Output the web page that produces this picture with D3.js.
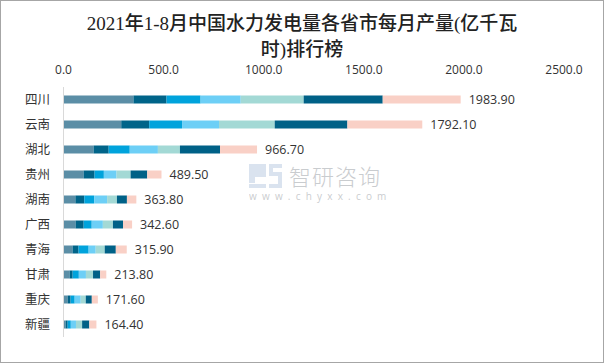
<!DOCTYPE html>
<html>
<head>
<meta charset="utf-8">
<script src="https://cdnjs.cloudflare.com/ajax/libs/d3/7.8.5/d3.min.js"></script>
<style>
  body { margin: 0; background: #fff; }
  svg text { font-family: "Open Sans", "Noto Sans CJK SC", sans-serif; }
</style>
</head>
<body>
<div id="chart"></div>
<script>

var provinces = ["四川", "云南", "湖北", "贵州", "湖南", "广西", "青海", "甘肃", "重庆", "新疆"];
var totals = [1983.9, 1792.1, 966.7, 489.5, 363.8, 342.6, 315.9, 213.8, 171.6, 164.4];
var xTicks = [0, 500, 1000, 1500, 2000, 2500];

// monthly output, one array per period (1-2月 combined)
var m12 = [349.5, 288.4, 150.3, 100.2, 59.4, 60.3, 45.2, 30.6, 20.4, 10.5];
var m3 = [165.2, 139.6, 75.4, 55.1, 44.6, 40.5, 30.1, 15.2, 15.1, 10.4];
var m4 = [170.1, 164.2, 105.2, 46.3, 49.3, 40.2, 50.3, 30.8, 20.3, 15.6];
var m5 = [200.3, 184.5, 140.6, 63.4, 64.5, 55.6, 35.2, 35.5, 30.2, 25.8];
var m6 = [314.6, 278.3, 110.1, 70.2, 49.2, 50.4, 45.1, 35.4, 25.3, 30.7];
var m7 = [394.8, 363.1, 200.3, 83.1, 49.8, 50.3, 55.4, 35.6, 30.1, 35.9];
var m8 = [389.4, 374.0, 184.8, 71.2, 47.0, 45.3, 54.6, 30.7, 30.2, 35.5];

var months = [m12, m3, m4, m5, m6, m7, m8];
var colors = ["#5b8ea6", "#006489", "#00a3dc", "#6dcff6", "#a3d9d5", "#006187", "#f9d0c6"];

var svgWidth = 605;
var svgHeight = 363;

var svg = d3.select("#chart")
  .append("svg")
  .attr("width", svgWidth)
  .attr("height", svgHeight);

// outer frame
svg.append("rect")
  .attr("x", 0.5).attr("y", 0.5)
  .attr("width", svgWidth - 2).attr("height", svgHeight - 1)
  .attr("fill", "#fff")
  .attr("stroke", "#a6a6a6");

// title
var title = svg.append("text")
  .attr("text-anchor", "middle")
  .attr("fill", "#222")
  .style("font-family", "'Liberation Serif', 'Noto Sans CJK SC', serif")
  .style("font-size", "19px")
  .style("font-weight", "500");
title.append("tspan").attr("x", 302).attr("y", 30).text("2021年1-8月中国水力发电量各省市每月产量(亿千瓦");
title.append("tspan").attr("x", 302).attr("y", 56).text("时)排行榜");

var x = d3.scaleLinear()
  .domain([0, 2500])
  .range([63.5, 564]);

var y = d3.scaleBand()
  .domain(provinces)
  .range([87, 337])
  .paddingInner(0.68)
  .paddingOuter(0.34);

// stacked rows
var rows = provinces.map(function(p, i) {
  var start = 0;
  return months.map(function(m, k) {
    var seg = {name: p, k: k, x0: start, x1: start + m[i]};
    start += m[i];
    return seg;
  });
});

var chartGroup = svg.append("g");

// watermark
var wm = svg.append("g").attr("opacity", 0.45);
wm.append("path")
  .attr("d", "M249,164 h17 v13 h-11 v6 h-6 z M256,170 h4 v2 h-4 z")
  .attr("fill", "#aec3dc");
wm.append("path")
  .attr("d", "M269,164 h13 v4 h-9 v4 h9 v16 h-13 v-4 h9 v-8 h-9 z")
  .attr("fill", "#aec3dc");
wm.append("rect").attr("x", 249).attr("y", 184).attr("width", 17).attr("height", 4).attr("fill", "#aec3dc");
wm.append("text")
  .attr("x", 289).attr("y", 185)
  .attr("fill", "#8a8f96")
  .style("font-family", "'Noto Sans CJK SC'")
  .style("font-size", "22px")
  .style("font-weight", "300")
  .style("letter-spacing", "1px")
  .text("智研咨询");
wm.append("text")
  .attr("x", 249).attr("y", 200)
  .attr("fill", "#8a8f96")
  .style("font-size", "10px")
  .style("letter-spacing", "5.2px")
  .text("www.chyxx.com");

chartGroup.selectAll("g.row")
  .data(rows)
  .enter()
  .append("g")
  .attr("class", "row")
  .selectAll("rect")
  .data(function(d) { return d; })
  .enter()
  .append("rect")
  .attr("x", function(d) { return x(d.x0); })
  .attr("width", function(d) { return x(d.x1) - x(d.x0); })
  .attr("y", function(d) { return y(d.name); })
  .attr("height", y.bandwidth())
  .attr("fill", function(d) { return colors[d.k]; });

// axis line
chartGroup.append("line")
  .attr("x1", 63.5).attr("x2", 63.5)
  .attr("y1", 87).attr("y2", 337)
  .attr("stroke", "#d9d9d9");

// top tick labels
chartGroup.selectAll("text.tick")
  .data(xTicks)
  .enter()
  .append("text")
  .attr("class", "tick")
  .attr("x", d => x(d))
  .attr("y", 74)
  .attr("text-anchor", "middle")
  .attr("fill", "#333")
  .style("font-size", "12px")
  .text(d => d3.format(".1f")(d));

// category labels
chartGroup.selectAll("text.cat")
  .data(provinces)
  .enter()
  .append("text")
  .attr("class", "cat")
  .attr("x", 50)
  .attr("y", d => y(d) + y.bandwidth() / 2)
  .attr("dy", "0.36em")
  .attr("text-anchor", "end")
  .attr("fill", "#333")
  .style("font-size", "12.5px")
  .text(d => d);

// total labels
chartGroup.selectAll("text.val")
  .data(totals)
  .enter()
  .append("text")
  .attr("class", "val")
  .attr("x", (d, i) => x(rows[i][6].x1) + 8)
  .attr("y", (d, i) => y(provinces[i]) + y.bandwidth() / 2)
  .attr("dy", "0.38em")
  .attr("fill", "#333")
  .style("font-size", "12.5px")
  .text(d => d3.format(".2f")(d));

</script>
</body>
</html>
